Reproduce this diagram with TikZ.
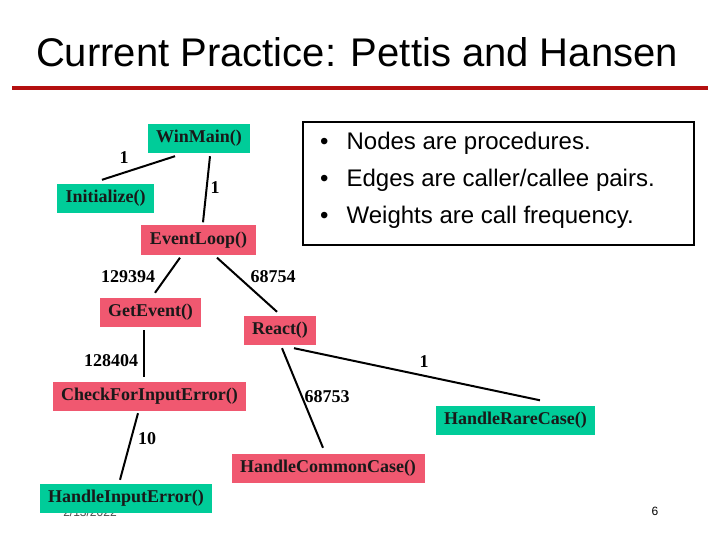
\documentclass[tikz,border=0pt]{standalone}
\usepackage{fontspec}
\setmainfont{Liberation Serif}
\newfontfamily\arialfont{Liberation Sans}
\definecolor{tealnode}{RGB}{0,204,153}
\definecolor{pinknode}{RGB}{240,88,112}
\definecolor{rulered}{RGB}{180,16,16}
\tikzset{
  proc/.style={minimum height=29pt, inner xsep=8.5pt, inner ysep=0pt, font=\fontsize{18}{20}\selectfont\bfseries, text=black!90},
  greenproc/.style={proc, fill=tealnode},
  pinkproc/.style={proc, fill=pinknode},
  edge/.style={line width=2pt, draw=black},
  wt/.style={font=\fontsize{18}{20}\selectfont\bfseries, inner sep=0pt},
  bullettext/.style={anchor=west, font=\arialfont\fontsize{24}{26}\selectfont, inner sep=0pt}
}
\begin{document}
\begin{tikzpicture}[x=1pt,y=-1pt]
\useasboundingbox (0,0) rectangle (720,540);
\fill[white] (0,0) rectangle (720,540);
% title
\node[font=\arialfont\fontsize{40}{44}\selectfont, inner sep=0pt] (title) at (357,52) {Current Practice: Pettis and Hansen};
\fill[rulered] (12,86.5) rectangle (708,90.5);
% bullet box
\draw[line width=2pt] (303,122) rectangle (694,245);
\node[bullettext] (b1) at (320,143) {•\hspace{18pt}Nodes are procedures.};
\node[bullettext] (b2) at (320,180) {•\hspace{18pt}Edges are caller/callee pairs.};
\node[bullettext] (b3) at (320,217) {•\hspace{18pt}Weights are call frequency.};
% date (mostly hidden behind the node)
\node[font=\arialfont\fontsize{12}{14}\selectfont, text=black!70, inner sep=0pt] (date) at (90,512) {2/13/2022};
% nodes
\node[greenproc] (winmain) at (199,138.5) {WinMain()};
\node[greenproc] (init) at (105.5,198.5) {Initialize()};
\node[pinkproc] (eventloop) at (198.5,240) {EventLoop()};
\node[pinkproc] (getevent) at (150.5,312.5) {GetEvent()};
\node[pinkproc] (react) at (280,330.5) {React()};
\node[pinkproc] (check) at (149.5,396.5) {CheckForInputError()};
\node[greenproc] (rare) at (515.5,420) {HandleRareCase()};
\node[pinkproc] (common) at (328,468.5) {HandleCommonCase()};
\node[greenproc] (hie) at (126,498.5) {HandleInputError()};
% edges
\draw[edge] ([shift={(-24,3)}]winmain.south) -- ([shift={(-3.5,-4)}]init.north);
\draw[edge] ([shift={(11,3)}]winmain.south) -- ([shift={(4.5,-3)}]eventloop.north);
\draw[edge] ([shift={(-18.5,3)}]eventloop.south) -- ([shift={(4.5,-5)}]getevent.north);
\draw[edge] ([shift={(18.5,3)}]eventloop.south) -- ([shift={(-3,-4)}]react.north);
\draw[edge] ([shift={(-6.5,3)}]getevent.south) -- ([shift={(-5.5,-5)}]check.north);
\draw[edge] ([shift={(2,3)}]react.south) -- ([shift={(-5,-6)}]common.north);
\draw[edge] ([shift={(14,3)}]react.south) -- ([shift={(24.5,-5)}]rare.north);
\draw[edge] ([shift={(-11.5,2)}]check.south) -- ([shift={(-6,-4)}]hie.north);
% weights
\node[wt] (w1) at (124,158) {1};
\node[wt] (w2) at (215,188) {1};
\node[wt] (w3) at (128,277) {129394};
\node[wt] (w4) at (273,277) {68754};
\node[wt] (w5) at (111,361) {128404};
\node[wt] (w6) at (424,362) {1};
\node[wt] (w7) at (327,397) {68753};
\node[wt] (w8) at (147,439) {10};
% page number
\node[font=\arialfont\fontsize{12}{14}\selectfont, inner sep=0pt] (page) at (655,511) {6};
\end{tikzpicture}
\end{document}
